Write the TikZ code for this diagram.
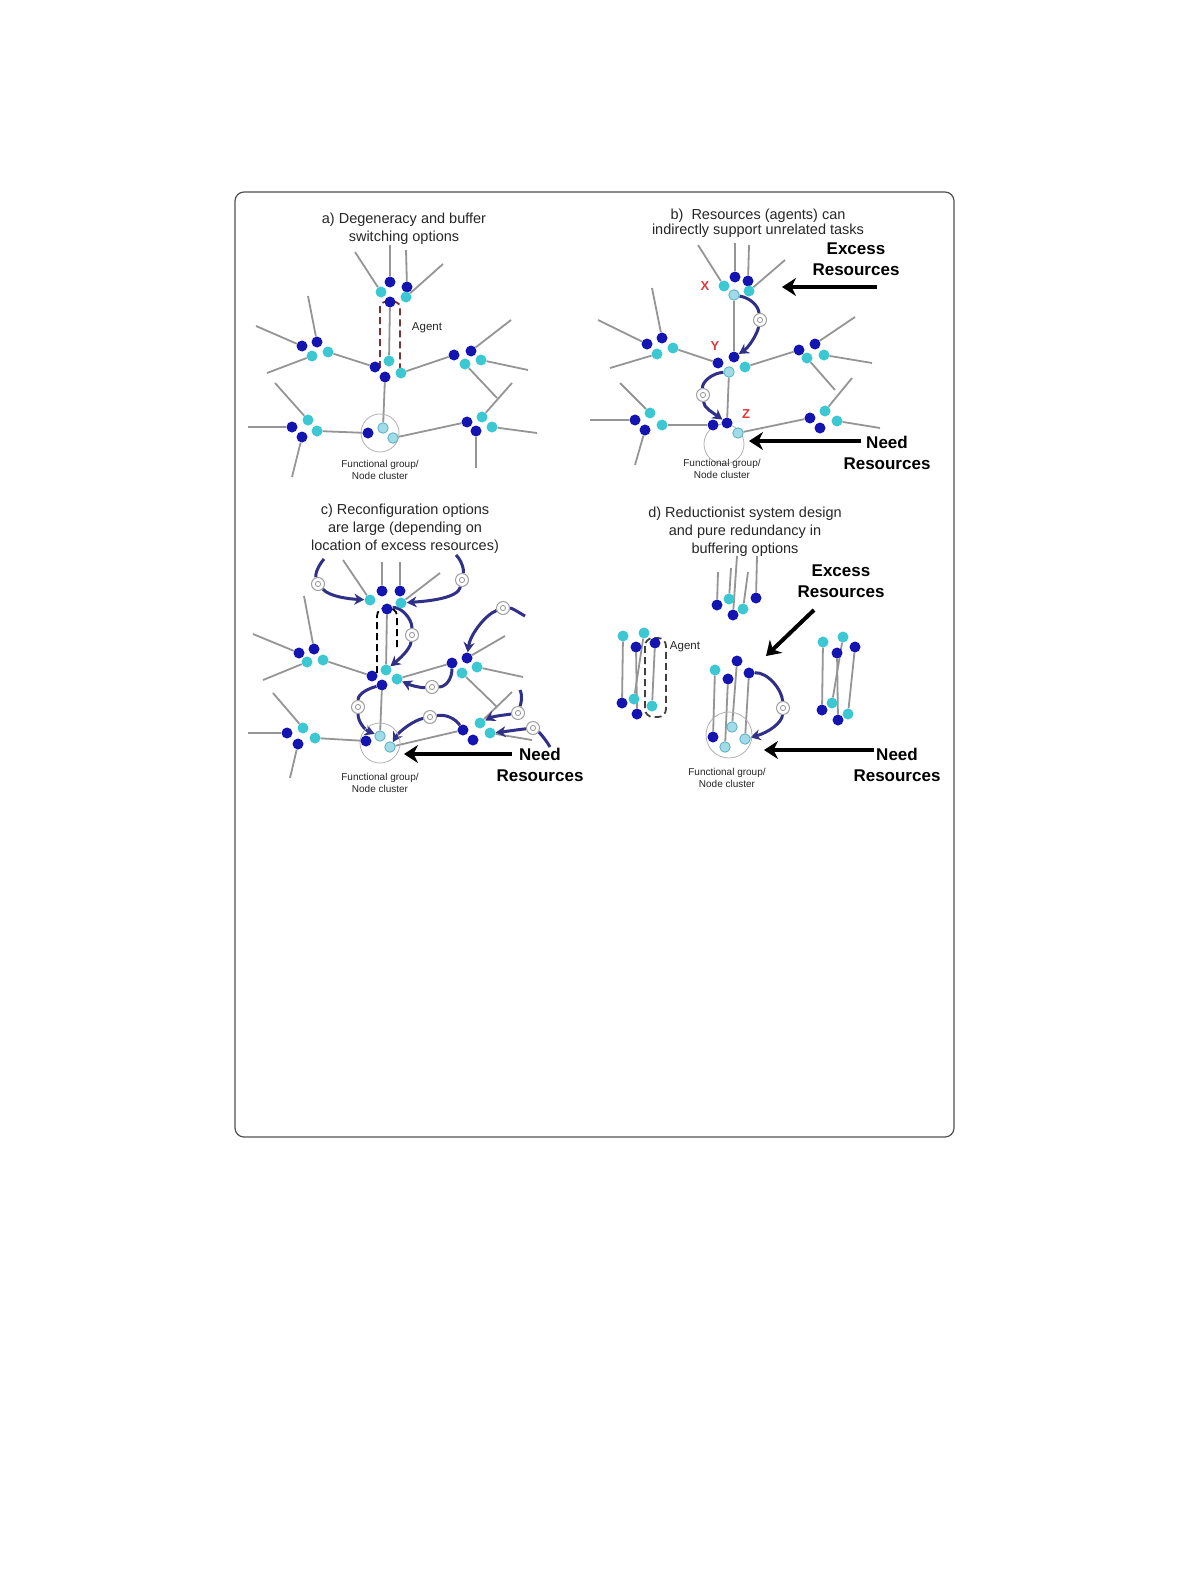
\documentclass[tikz,border=0pt]{standalone}
\usepackage{fontspec}
\setmainfont{Liberation Sans}
\usetikzlibrary{arrows.meta}
\pgfdeclarelayer{back}
\pgfdeclarelayer{bg}
\pgfdeclarelayer{mid}
\pgfsetlayers{back,bg,mid,main}
\definecolor{dkb}{HTML}{1414B0}
\definecolor{cyn}{HTML}{3CC8D2}
\definecolor{lcy}{HTML}{A0DCE8}
\definecolor{lcyb}{HTML}{5AAFC0}
\definecolor{gln}{HTML}{959595}
\definecolor{nav}{HTML}{303088}
\definecolor{frm}{HTML}{505050}
\definecolor{redl}{HTML}{E03A3A}
\newcommand\dotD[2]{\node[dk] (#1) at (#2) {};}
\newcommand\dotC[2]{\node[cy] (#1) at (#2) {};}
\newcommand\dotL[2]{\node[lc] (#1) at (#2) {};}
\newcommand\lk[2]{\draw[ln] (#1) -- (#2);}
\newcommand\fe[2]{\coordinate (#1) at (#2);}
\begin{document}
\begin{tikzpicture}[x=1pt,y=-1pt,
  dk/.style={circle,fill=dkb,inner sep=0pt,minimum size=11pt},
  cy/.style={circle,fill=cyn,inner sep=0pt,minimum size=11pt},
  lc/.style={circle,fill=lcy,draw=lcyb,line width=0.8pt,inner sep=0pt,minimum size=10.5pt},
  ln/.style={draw=gln,line width=1.8pt},
  narr/.style={draw=nav,line width=3pt,-{Stealth[length=10pt,width=11pt]}},
  tok/.style={circle,draw=gray!75,fill=white,line width=1pt,minimum size=13pt,inner sep=0pt,
    path picture={\draw[gray!75,line width=0.9pt] (path picture bounding box.center) circle[radius=2.6pt];}},
  bigarr/.style={draw=black,line width=4pt,-{Stealth[length=14pt,width=18pt]}},
  fgc/.style={circle,draw=gray!60,line width=0.8pt,inner sep=0pt},
  agentbox/.style={dashed,dash pattern=on 7pt off 4pt,line width=1.8pt},
  ttl/.style={align=center,font=\fontsize{14.5}{18}\selectfont,text=black!85},
  bigt/.style={align=center,font=\fontsize{17}{21}\selectfont\bfseries},
  small/.style={align=center,font=\fontsize{10}{12.5}\selectfont,text=black!85},
  agt/.style={font=\fontsize{11.5}{13}\selectfont,text=black!85},
  xyz/.style={font=\fontsize{13}{13}\selectfont\bfseries,text=redl}
]
\useasboundingbox (0,0) rectangle (1191,1589);
\begin{pgfonlayer}{back}
\fill[white] (0,0) rectangle (1191,1589);
\end{pgfonlayer}
\draw[draw=frm,line width=1.2pt,rounded corners=9pt] (235,192) rectangle (954,1137);

% ================= Panel a =================
\node[ttl] (a-title) at (404,229) {a) Degeneracy and buffer\\switching options};
\node[fgc,minimum size=38pt] (a-fg) at (380,433) {};
\dotD{a-t1}{390,282} \dotD{a-t2}{407,287} \dotC{a-t3}{381,292} \dotC{a-t4}{406,297} \dotD{a-t5}{390,302}
\dotD{a-c1}{375,367} \dotC{a-c2}{389,361} \dotD{a-c3}{385,377} \dotC{a-c4}{401,373}
\dotD{a-l1}{302,346} \dotD{a-l2}{317,342} \dotC{a-l3}{312,356} \dotC{a-l4}{328,352}
\dotD{a-r1}{454,355} \dotD{a-r2}{471,351} \dotC{a-r3}{465,364} \dotC{a-r4}{481,360}
\dotD{a-br1}{467,422} \dotC{a-br2}{482,417} \dotD{a-br3}{476,431} \dotC{a-br4}{492,427}
\dotD{a-bl1}{292,427} \dotC{a-bl2}{308,420} \dotD{a-bl3}{302,437} \dotC{a-bl4}{317,431}
\dotD{a-f1}{368,433} \dotL{a-f2}{383,428} \dotL{a-f3}{393,438}
\fe{a-e1}{355,252} \fe{a-e2}{390,245} \fe{a-e3}{406,250} \fe{a-e4}{443,264}
\fe{a-e5}{256,326} \fe{a-e6}{308,296} \fe{a-e7}{267,373} \fe{a-e8}{511,320}
\fe{a-e9}{528,370} \fe{a-e10}{497,398} \fe{a-e11}{512,383} \fe{a-e12}{537,433}
\fe{a-e13}{476,468} \fe{a-e14}{248,427} \fe{a-e15}{275,383} \fe{a-e16}{292,477}
\node[agt] (a-agent) at (427,328) {Agent};
\node[small] (a-fglab) at (380,470) {Functional group/\\Node cluster};

% ================= Panel b =================
\node[ttl,font=\fontsize{14.5}{15}\selectfont] (b-title) at (758,223) {b)\ \ Resources (agents) can\\indirectly support unrelated tasks};
\node[fgc,minimum size=40pt] (b-fg) at (724,444) {};
\dotD{b-t1}{735,277} \dotD{b-t2}{748,281} \dotC{b-t3}{724,286} \dotC{b-t4}{749,291} \dotL{b-t5}{734,295}
\dotD{b-y1}{718,363} \dotD{b-y2}{734,357} \dotL{b-y3}{729,372} \dotC{b-y4}{745,367}
\dotD{b-z1}{713,425} \dotD{b-z2}{727,423} \dotL{b-z3}{738,433}
\dotD{b-l1}{647,344} \dotD{b-l2}{662,338} \dotC{b-l3}{657,354} \dotC{b-l4}{673,348}
\dotD{b-r1}{799,350} \dotD{b-r2}{815,344} \dotC{b-r3}{807,358} \dotC{b-r4}{824,355}
\dotD{b-br1}{810,418} \dotC{b-br2}{825,411} \dotD{b-br3}{820,428} \dotC{b-br4}{837,421}
\dotD{b-bl1}{635,420} \dotC{b-bl2}{650,413} \dotD{b-bl3}{645,430} \dotC{b-bl4}{662,425}
\fe{b-e1}{698,245} \fe{b-e2}{735,243} \fe{b-e3}{749,245} \fe{b-e4}{785,260}
\fe{b-e5}{598,320} \fe{b-e6}{652,288} \fe{b-e7}{610,368} \fe{b-e8}{855,317}
\fe{b-e9}{872,363} \fe{b-e10}{835,390} \fe{b-e11}{852,378} \fe{b-e12}{880,428}
\fe{b-e14}{590,420} \fe{b-e15}{620,383} \fe{b-e16}{635,465}
\node[tok] (b-k1) at (760,320) {};
\node[tok] (b-k2) at (703,395) {};
\node[xyz] (b-X) at (705,286) {X};
\node[xyz] (b-Y) at (715,346) {Y};
\node[xyz] (b-Z) at (746,414) {Z};
\node[bigt] (b-exc) at (856,259) {Excess\\Resources};
\node[bigt] (b-need) at (887,453) {Need\\Resources};
\fe{b-ea1}{877,287} \fe{b-ea2}{782,287}
\fe{b-na1}{861,441} \fe{b-na2}{749,441}
\node[small] (b-fglab) at (722,469) {Functional group/\\Node cluster};

% ================= Panel c =================
\node[ttl] (c-title) at (405,529) {c) Reconfiguration options\\are large (depending on\\location of excess resources)};
\node[fgc,minimum size=40pt] (c-fg) at (380,743) {};
\dotD{c-t1}{382,591} \dotD{c-t2}{400,591} \dotC{c-t3}{370,600} \dotC{c-t4}{401,603} \dotD{c-t5}{387,609}
\dotD{c-c1}{372,676} \dotC{c-c2}{386,670} \dotD{c-c3}{382,685} \dotC{c-c4}{397,679}
\dotD{c-l1}{299,653} \dotD{c-l2}{314,649} \dotC{c-l3}{307,662} \dotC{c-l4}{323,660}
\dotD{c-r1}{452,663} \dotD{c-r2}{467,658} \dotC{c-r3}{462,673} \dotC{c-r4}{477,667}
\dotD{c-br1}{463,730} \dotC{c-br2}{480,723} \dotD{c-br3}{473,740} \dotC{c-br4}{490,733}
\dotD{c-bl1}{287,733} \dotC{c-bl2}{303,728} \dotD{c-bl3}{298,744} \dotC{c-bl4}{315,738}
\dotD{c-f1}{366,741} \dotL{c-f2}{380,736} \dotL{c-f3}{390,747}
\fe{c-e1}{343,560} \fe{c-e2}{382,562} \fe{c-e3}{400,562} \fe{c-e4}{440,573}
\fe{c-e5}{253,634} \fe{c-e6}{304,596} \fe{c-e7}{263,680} \fe{c-e8}{505,636}
\fe{c-e9}{523,677} \fe{c-e10}{497,707} \fe{c-e11}{512,692} \fe{c-e12}{532,740}
\fe{c-e14}{248,733} \fe{c-e15}{273,693} \fe{c-e16}{290,778}
\node[tok] (c-k1) at (318,584) {};
\node[tok] (c-k2) at (462,580) {};
\node[tok] (c-k3) at (412,635) {};
\node[tok] (c-k4) at (503,608) {};
\node[tok] (c-k5) at (432,687) {};
\node[tok] (c-k6) at (358,707) {};
\node[tok] (c-k7) at (430,717) {};
\node[tok] (c-k8) at (518,713) {};
\node[tok] (c-k9) at (533,728) {};
\fe{c-s1}{324,559} \fe{c-s2}{456,555} \fe{c-s4}{525,616} \fe{c-s8}{520,690} \fe{c-s9}{550,747}
\node[bigt] (c-need) at (540,765) {Need\\Resources};
\fe{c-na1}{512,754} \fe{c-na2}{404,754}
\node[small] (c-fglab) at (380,783) {Functional group/\\Node cluster};

% ================= Panel d =================
\node[ttl] (d-title) at (745,532) {d) Reductionist system design\\and pure redundancy in\\buffering options};
\node[fgc,minimum size=46pt] (d-fg) at (729,735) {};
\dotD{d-u1}{717,605} \dotC{d-u2}{729,599} \dotD{d-u3}{733,615} \dotC{d-u4}{743,609} \dotD{d-u5}{756,598}
\fe{d-ue1}{718,572} \fe{d-ue2}{731,568} \fe{d-ue3}{737,556} \fe{d-ue4}{748,572} \fe{d-ue5}{757,556}
\dotC{d-l1}{623,636} \dotC{d-l2}{644,633} \dotD{d-l3}{636,647} \dotD{d-l4}{655,643}
\dotD{d-l5}{622,703} \dotC{d-l6}{634,699} \dotD{d-l7}{637,714} \dotC{d-l8}{652,706}
\dotC{d-r1}{823,642} \dotC{d-r2}{843,637} \dotD{d-r3}{837,653} \dotD{d-r4}{855,647}
\dotD{d-r5}{822,710} \dotC{d-r6}{832,703} \dotD{d-r7}{838,720} \dotC{d-r8}{848,714}
\dotC{d-c1}{715,670} \dotD{d-c2}{737,661} \dotD{d-c3}{728,679} \dotD{d-c4}{749,673}
\dotD{d-c5}{713,737} \dotL{d-c6}{732,727} \dotL{d-c7}{745,739} \dotL{d-c8}{725,747}
\node[tok] (d-k1) at (783,708) {};
\node[agt] (d-agent) at (685,647) {Agent};
\node[bigt] (d-exc) at (841,581) {Excess\\Resources};
\node[bigt] (d-need) at (897,765) {Need\\Resources};
\fe{d-ea1}{814,610} \fe{d-ea2}{766,656}
\fe{d-na1}{874,750} \fe{d-na2}{764,750}
\node[small] (d-fglab) at (727,778) {Functional group/\\Node cluster};

% ================= grey links =================
\begin{pgfonlayer}{bg}
\lk{a-e1}{a-t3} \lk{a-e2}{a-t1} \lk{a-e3}{a-t2} \lk{a-e4}{a-t4}
\lk{a-t5}{a-c2} \lk{a-l4}{a-c1} \lk{a-c4}{a-r1} \lk{a-c3}{a-f2}
\lk{a-e5}{a-l1} \lk{a-e6}{a-l2} \lk{a-e7}{a-l3} \lk{a-e8}{a-r2} \lk{a-e9}{a-r4}
\lk{a-r3}{a-e10} \lk{a-e11}{a-br2} \lk{a-e12}{a-br4} \lk{a-br3}{a-e13} \lk{a-br1}{a-f3}
\lk{a-e14}{a-bl1} \lk{a-e15}{a-bl2} \lk{a-bl3}{a-e16} \lk{a-bl4}{a-f1}
\lk{b-e1}{b-t3} \lk{b-e2}{b-t1} \lk{b-e3}{b-t2} \lk{b-e4}{b-t4}
\lk{b-t5}{b-y2} \lk{b-l4}{b-y1} \lk{b-y4}{b-r1} \lk{b-y3}{b-z2}
\lk{b-e5}{b-l1} \lk{b-e6}{b-l2} \lk{b-e7}{b-l3} \lk{b-e8}{b-r2} \lk{b-e9}{b-r4}
\lk{b-r3}{b-e10} \lk{b-e11}{b-br2} \lk{b-e12}{b-br4} \lk{b-br1}{b-z3}
\lk{b-e14}{b-bl1} \lk{b-e15}{b-bl2} \lk{b-bl3}{b-e16} \lk{b-bl4}{b-z1}
\lk{c-e1}{c-t3} \lk{c-e2}{c-t1} \lk{c-e3}{c-t2} \lk{c-e4}{c-t4}
\lk{c-t5}{c-c2} \lk{c-l4}{c-c1} \lk{c-c4}{c-r1} \lk{c-c3}{c-f2}
\lk{c-e5}{c-l1} \lk{c-e6}{c-l2} \lk{c-e7}{c-l3} \lk{c-e8}{c-r2} \lk{c-e9}{c-r4}
\lk{c-r3}{c-e10} \lk{c-e11}{c-br2} \lk{c-e12}{c-br4} \lk{c-br1}{c-f3}
\lk{c-e14}{c-bl1} \lk{c-e15}{c-bl2} \lk{c-bl3}{c-e16} \lk{c-bl4}{c-f1}
\lk{d-ue1}{d-u1} \lk{d-ue2}{d-u2} \lk{d-ue3}{d-u3} \lk{d-ue4}{d-u4} \lk{d-ue5}{d-u5}
\lk{d-l1}{d-l5} \lk{d-l2}{d-l6} \lk{d-l3}{d-l7} \lk{d-l4}{d-l8}
\lk{d-r1}{d-r5} \lk{d-r2}{d-r6} \lk{d-r3}{d-r7} \lk{d-r4}{d-r8}
\lk{d-c1}{d-c5} \lk{d-c2}{d-c6} \lk{d-c3}{d-c8} \lk{d-c4}{d-c7}
\end{pgfonlayer}

% ================= agent boxes, arrows =================
\begin{pgfonlayer}{mid}
\draw[agentbox,draw=black!55!red!60!gray] (380,368) -- (380,307) .. controls (380,299) and (400,299) .. (400,307) -- (400,370);
\draw[agentbox,draw=black] (377,673) -- (377,616) .. controls (377,605) and (397,605) .. (397,616) -- (397,650);
\draw[agentbox,draw=black!75,rounded corners=8pt] (645,638) rectangle (666,717);
% panel b
\draw[narr] (b-t5) .. controls (750,298) and (758,305) .. (b-k1) .. controls (757,335) and (748,348) .. (b-y2);
\draw[narr] (b-y3) .. controls (712,373) and (702,382) .. (b-k2) .. controls (704,408) and (712,412) .. (b-z2);
% panel c
\draw[narr] (c-s1) .. controls (318,566) and (315,574) .. (c-k1) .. controls (330,597) and (350,599) .. (c-t3);
\draw[narr] (c-s2) .. controls (462,561) and (464,570) .. (c-k2) .. controls (458,598) and (430,601) .. (c-t4);
\draw[narr] (c-t5) .. controls (400,606) and (412,618) .. (c-k3) .. controls (410,650) and (398,660) .. (c-c2);
\draw[narr] (c-s4) .. controls (518,612) and (512,608) .. (c-k4) .. controls (485,615) and (470,635) .. (c-r2);
\draw[narr] (c-r1) .. controls (452,680) and (445,687) .. (c-k5) .. controls (420,688) and (410,685) .. (c-c4);
\draw[narr] (c-c3) .. controls (370,688) and (358,693) .. (c-k6) .. controls (358,722) and (365,730) .. (c-f2);
\draw[narr] (c-br1) .. controls (455,718) and (445,714) .. (c-k7) .. controls (415,720) and (400,730) .. (c-f3);
\draw[narr] (c-s8) .. controls (523,697) and (521,703) .. (c-k8) .. controls (505,715) and (494,716) .. (c-br2);
\draw[narr] (c-s9) .. controls (546,740) and (540,733) .. (c-k9) .. controls (515,730) and (502,732) .. (c-br4);
% panel d
\draw[narr] (d-c4) .. controls (768,672) and (782,690) .. (d-k1) .. controls (782,722) and (770,732) .. (d-c7);
% big arrows
\draw[bigarr] (b-ea1) -- (b-ea2);
\draw[bigarr] (b-na1) -- (b-na2);
\draw[bigarr] (c-na1) -- (c-na2);
\draw[bigarr] (d-ea1) -- (d-ea2);
\draw[bigarr] (d-na1) -- (d-na2);
\end{pgfonlayer}
\end{tikzpicture}
\end{document}
